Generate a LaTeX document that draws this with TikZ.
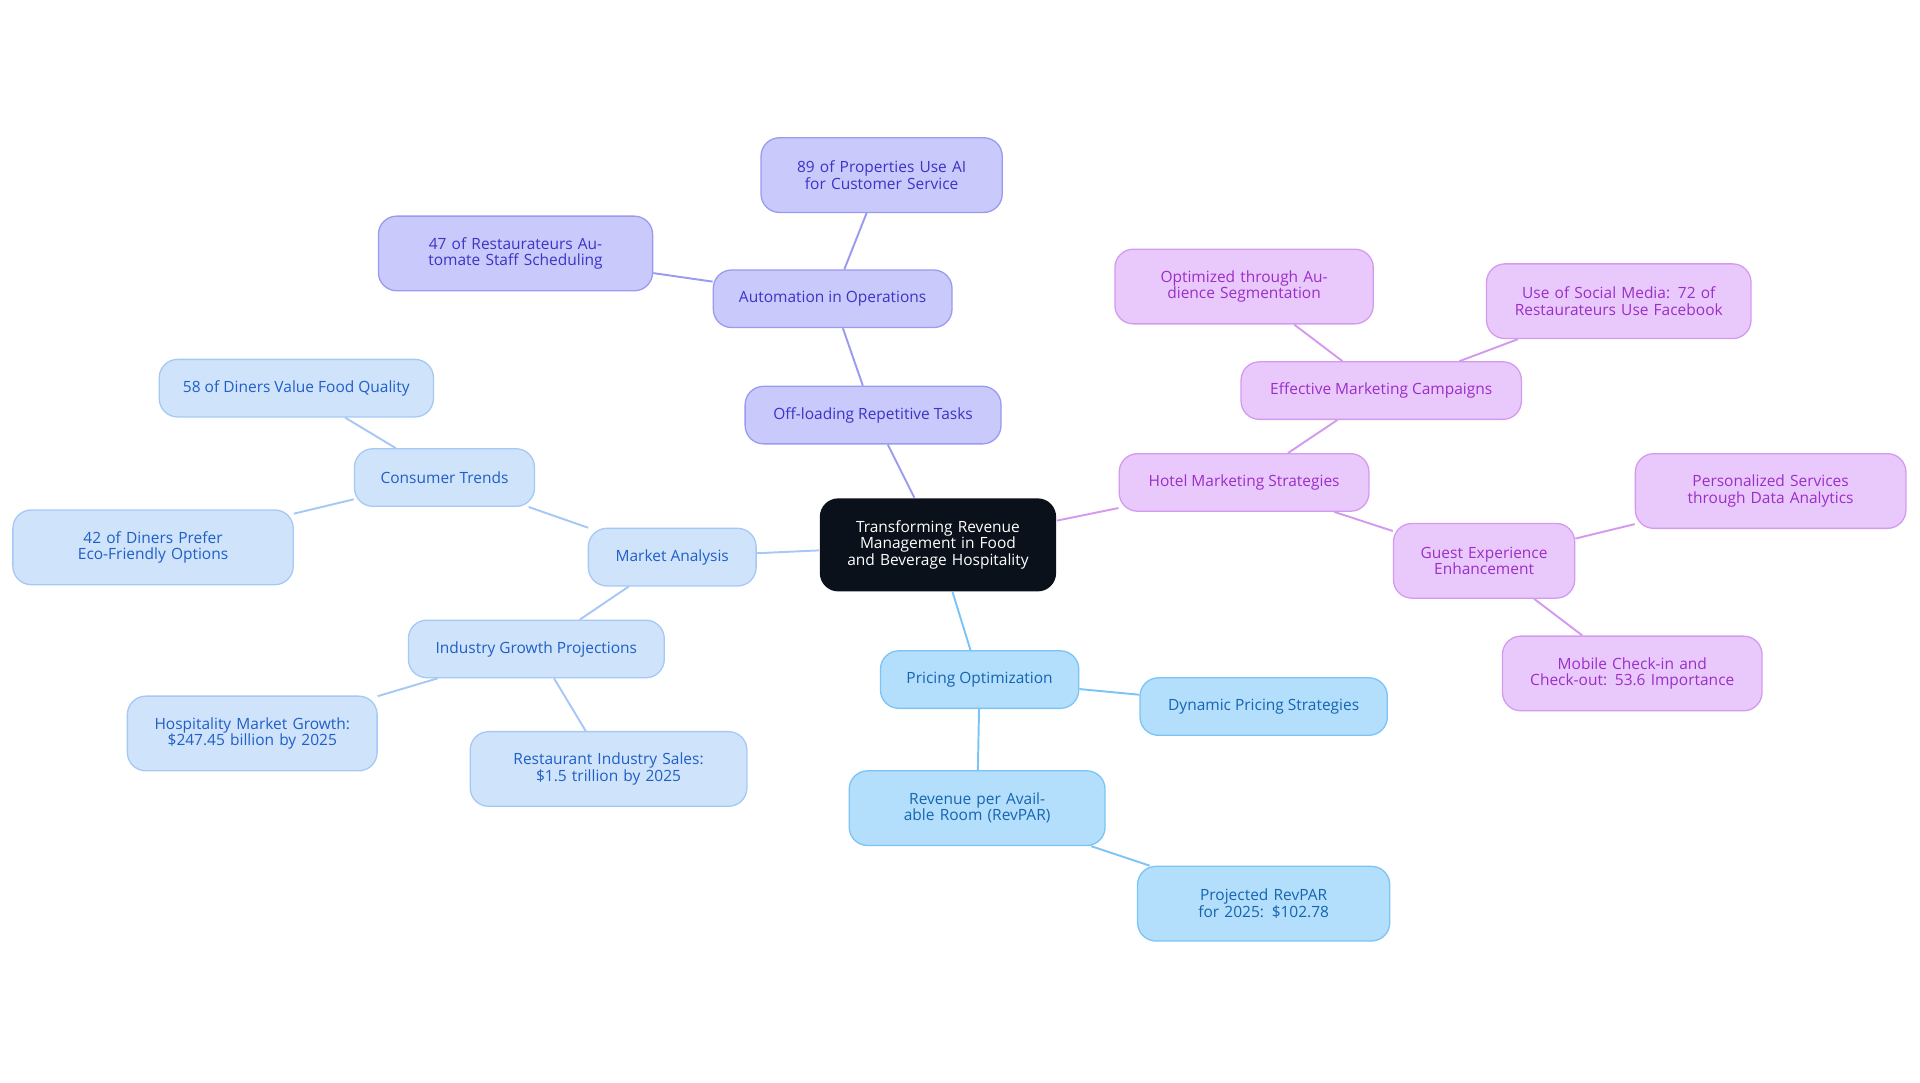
\documentclass[tikz,border=0pt]{standalone}
\usepackage{fontspec}
\setmainfont{Open Sans}
\usetikzlibrary{positioning}
\definecolor{bluefill}{HTML}{CFE3FB}\definecolor{blueline}{HTML}{A6C8F5}\definecolor{bluetext}{HTML}{1F5FC7}
\definecolor{indfill}{HTML}{C9C9FB}\definecolor{indline}{HTML}{9A9AF0}\definecolor{indtext}{HTML}{3B34C6}
\definecolor{purfill}{HTML}{E9C9FB}\definecolor{purline}{HTML}{D49AF0}\definecolor{purtext}{HTML}{9B2EC9}
\definecolor{skyfill}{HTML}{B3DEFC}\definecolor{skyline}{HTML}{7CC4F5}\definecolor{skytext}{HTML}{1565B0}
\definecolor{rootfill}{HTML}{0B111A}

\begin{document}
\begin{tikzpicture}[x=0.02cm,y=-0.02cm,
    box/.style={rounded corners=0.3cm, align=center, font=\fontsize{7.2}{7.6}\selectfont, inner sep=1pt, line width=0.6pt},
    bluebox/.style={box, fill=bluefill, draw=blueline, text=bluetext},
    indbox/.style={box, fill=indfill, draw=indline, text=indtext},
    purbox/.style={box, fill=purfill, draw=purline, text=purtext},
    skybox/.style={box, fill=skyfill, draw=skyline, text=skytext},
    bluelink/.style={blueline, line width=0.9pt},
    indlink/.style={indline, line width=0.9pt},
    purlink/.style={purline, line width=0.9pt},
    skylink/.style={skyline, line width=0.9pt}]
    \useasboundingbox (0,0) rectangle (1568,884);

    % root
    \node[box, fill=rootfill, text=white, minimum width=3.86cm, minimum height=1.52cm, text width=3.2cm] (root) at (766,445) {Transforming Revenue Management in Food and Beverage Hospitality};

    % market analysis
    \node[bluebox, minimum width=2.74cm, minimum height=0.94cm] (market) at (549,455) {Market Analysis};
    \node[bluebox, minimum width=2.94cm, minimum height=0.94cm] (consumer) at (363,390) {Consumer Trends};
    \node[bluebox, minimum width=4.48cm, minimum height=0.94cm] (quality) at (242,317) {58 of Diners Value Food Quality};
    \node[bluebox, minimum width=4.58cm, minimum height=1.22cm, text width=4.2cm] (eco) at (125,447) {42 of Diners Prefer Eco-Friendly Options};
    \node[bluebox, minimum width=4.18cm, minimum height=0.94cm] (growth) at (438,530) {Industry Growth Projections};
    \node[bluebox, minimum width=4.08cm, minimum height=1.22cm, text width=3.6cm] (hospitality) at (206,599) {Hospitality Market Growth: \$247.45 billion by 2025};
    \node[bluebox, minimum width=4.52cm, minimum height=1.22cm, text width=3.9cm] (sales) at (497,628) {Restaurant Industry Sales: \$1.5 trillion by 2025};

    % automation
    \node[indbox, minimum width=4.18cm, minimum height=0.94cm] (offload) at (713,339) {Off-loading Repetitive Tasks};
    \node[indbox, minimum width=3.9cm, minimum height=0.94cm] (automation) at (680,244) {Automation in Operations};
    \node[indbox, minimum width=3.94cm, minimum height=1.22cm, text width=3.4cm] (properties) at (720,143) {89 of Properties Use AI for Customer Service};
    \node[indbox, minimum width=4.48cm, minimum height=1.22cm, text width=4.0cm] (staff) at (421,207) {47 of Restaurateurs Automate Staff Scheduling};

    % hotel marketing
    \node[purbox, minimum width=4.08cm, minimum height=0.94cm] (hotel) at (1016,394) {Hotel Marketing Strategies};
    \node[purbox, minimum width=4.58cm, minimum height=0.94cm] (campaigns) at (1128,319) {Effective Marketing Campaigns};
    \node[purbox, minimum width=4.22cm, minimum height=1.22cm, text width=3.6cm] (segment) at (1016,234) {Optimized through Audience Segmentation};
    \node[purbox, minimum width=4.32cm, minimum height=1.22cm, text width=3.8cm] (social) at (1322,246) {Use of Social Media: 72 of Restaurateurs Use Facebook};
    \node[purbox, minimum width=2.96cm, minimum height=1.22cm, text width=2.4cm] (guest) at (1212,458) {Guest Experience Enhancement};
    \node[purbox, minimum width=4.42cm, minimum height=1.22cm, text width=3.6cm] (personal) at (1446,401) {Personalized Services through Data Analytics};
    \node[purbox, minimum width=4.24cm, minimum height=1.22cm, text width=3.4cm] (mobile) at (1333,550) {Mobile Check-in and Check-out: 53.6 Importance};

    % pricing
    \node[skybox, minimum width=3.24cm, minimum height=0.94cm] (pricing) at (800,555) {Pricing Optimization};
    \node[skybox, minimum width=4.04cm, minimum height=0.94cm] (dynamic) at (1032,577) {Dynamic Pricing Strategies};
    \node[skybox, minimum width=4.18cm, minimum height=1.22cm, text width=3.6cm] (revpar) at (798,660) {Revenue per Available Room (RevPAR)};
    \node[skybox, minimum width=4.12cm, minimum height=1.22cm, text width=3.4cm] (projected) at (1032,738) {Projected RevPAR for 2025: \$102.78};

    % links
    \draw[bluelink] (root) -- (market);
    \draw[bluelink] (market) -- (consumer);
    \draw[bluelink] (market) -- (growth);
    \draw[bluelink] (consumer) -- (quality);
    \draw[bluelink] (consumer) -- (eco);
    \draw[bluelink] (growth) -- (hospitality);
    \draw[bluelink] (growth) -- (sales);
    \draw[indlink] (root) -- (offload);
    \draw[indlink] (offload) -- (automation);
    \draw[indlink] (automation) -- (properties);
    \draw[indlink] (automation) -- (staff);
    \draw[purlink] (root) -- (hotel);
    \draw[purlink] (hotel) -- (campaigns);
    \draw[purlink] (hotel) -- (guest);
    \draw[purlink] (campaigns) -- (segment);
    \draw[purlink] (campaigns) -- (social);
    \draw[purlink] (guest) -- (personal);
    \draw[purlink] (guest) -- (mobile);
    \draw[skylink] (root) -- (pricing);
    \draw[skylink] (pricing) -- (dynamic);
    \draw[skylink] (pricing) -- (revpar);
    \draw[skylink] (revpar) -- (projected);
\end{tikzpicture}
\end{document}
